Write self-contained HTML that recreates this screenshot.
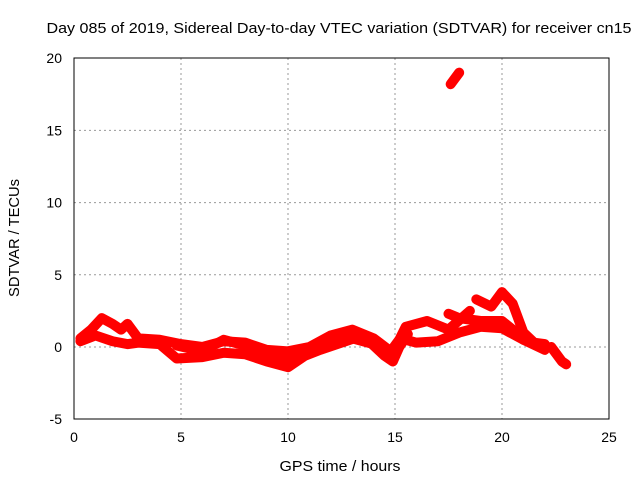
<!DOCTYPE html>
<html><head><meta charset="utf-8"><style>
body{margin:0;background:#fff;}
svg{display:block;font-family:"Liberation Sans",sans-serif;}
</style></head><body>
<svg width="640" height="480" id="c">
<text x="339" y="33" font-size="15" text-anchor="middle" textLength="585" lengthAdjust="spacingAndGlyphs">Day 085 of 2019, Sidereal Day-to-day VTEC variation (SDTVAR) for receiver cn15</text>
<text x="340" y="471" font-size="15" text-anchor="middle" textLength="121" lengthAdjust="spacingAndGlyphs">GPS time / hours</text>
<text x="19" y="238" font-size="15" text-anchor="middle" textLength="118" lengthAdjust="spacingAndGlyphs" transform="rotate(-90 19 238)">SDTVAR / TECUs</text>
<g id="grid"></g>
<g id="ticks"></g>
<g id="series"></g>
<rect x="74" y="58" width="535" height="361" fill="none" stroke="#000"/>
</svg>
<script>
const xTicks=[0,5,10,15,20,25];
const yTicks=[-5,0,5,10,15,20];
const trackA_t=[0.3,0.8,1.3,1.8,2.2,2.5,3,4,5,6,7,8,9,10,11,12,13,14,14.8,15.2,15.5,16.5,17.5,18.5];
const trackA_v=[0.6,1.2,2.0,1.6,1.2,1.6,0.6,0.5,0.2,0,0.4,0.3,-0.2,-0.3,0,0.8,1.2,0.6,-0.3,0.5,1.4,1.8,1.2,2.5];
const trackB_t=[0.3,1,1.8,2.5,3,4,4.8,6,7,8,9,10,10.8,11.5,12.5,13.5,14.5,14.9,15.2,15.6];
const trackB_v=[0.4,0.8,0.4,0.2,0.3,0.2,-0.8,-0.7,-0.4,-0.5,-1.0,-1.4,-0.6,-0.2,0.3,0.8,-0.6,-1.0,0,0.9];
const trackC_t=[4.8,6,7,8,9,10,11,12,13,14,15];
const trackC_v=[0.1,-0.3,0.5,0.1,-0.5,-0.9,-0.3,0.4,0.6,0.2,-0.5];
const trackD_t=[15.5,16,17,18,19,20,21,22];
const trackD_v=[0.5,0.3,0.4,1.0,1.4,1.3,0.5,-0.2];
const trackE_t=[18.8,19.5,20,20.5,21,21.5,22];
const trackE_v=[3.3,2.8,3.8,3.0,1.0,0.3,0.2];
const trackF_t=[17.5,18,19,20,20.5,21];
const trackF_v=[2.3,2.0,1.8,1.8,1.2,0.5];
const trackG_t=[22.3,22.8,23];
const trackG_v=[0,-1.0,-1.2];
const trackH_t=[17.6,18];
const trackH_v=[18.2,19.0];
const tracks=[[trackA_t,trackA_v],[trackB_t,trackB_v],[trackC_t,trackC_v],[trackD_t,trackD_v],[trackE_t,trackE_v],[trackF_t,trackF_v],[trackG_t,trackG_v],[trackH_t,trackH_v]];
const X=t=>74+t*(535/25), Y=v=>347-v*(361/25);
const NS="http://www.w3.org/2000/svg";
const g=document.getElementById('grid'),tk=document.getElementById('ticks'),s=document.getElementById('series');
function el(n,a,p){const e=document.createElementNS(NS,n);for(const k in a)e.setAttribute(k,a[k]);p.appendChild(e);return e;}
xTicks.forEach(t=>{
  if(t>0&&t<25){const l=el('line',{x1:X(t),x2:X(t),y1:58,y2:419,stroke:'#999','stroke-dasharray':'2,3'},g);
  
  }
  const tx=el('text',{x:X(t),y:442,'font-size':14,'text-anchor':'middle'},tk);tx.textContent=t;
  
  
});
yTicks.forEach(v=>{
  if(v>-5&&v<20){const l=el('line',{x1:74,x2:609,y1:Y(v),y2:Y(v),stroke:'#999','stroke-dasharray':'2,3'},g);
  
  }
  const tx=el('text',{x:62,y:Y(v)+5,'font-size':14,'text-anchor':'end'},tk);tx.textContent=v;
  
  
});
tracks.forEach(([ts,vs])=>{
  const p=el('polyline',{points:ts.map((t,i)=>X(t)+','+Y(vs[i])).join(' '),fill:'none',stroke:'#f00','stroke-width':10,'stroke-linejoin':'round','stroke-linecap':'round'},s);
  
  
});
</script>
</body></html>
